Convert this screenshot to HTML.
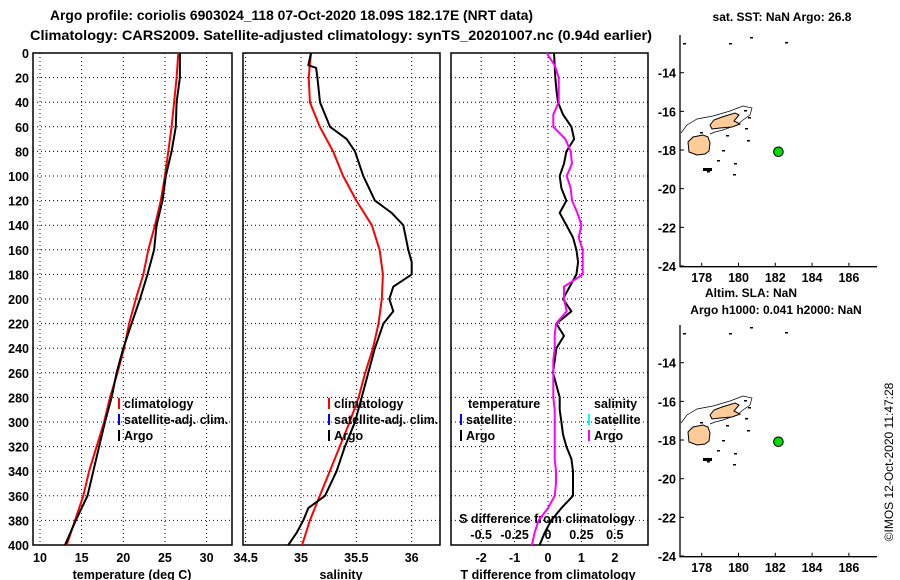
<!DOCTYPE html>
<html><head><meta charset="utf-8">
<style>
html,body{margin:0;padding:0;background:#fff;}
svg{display:block;font-family:"Liberation Sans",Arial,sans-serif;font-weight:bold;}
</style></head>
<body>
<svg id="chart" width="900" height="580" viewBox="0 0 900 580" xmlns="http://www.w3.org/2000/svg">
<g id="titles" font-size="13.5" fill="#000">
<text x="50" y="20" textLength="483" lengthAdjust="spacingAndGlyphs">Argo profile: coriolis 6903024_118 07-Oct-2020 18.09S 182.17E (NRT data)</text>
<text x="30" y="40" font-size="14" textLength="622" lengthAdjust="spacingAndGlyphs">Climatology: CARS2009. Satellite-adjusted climatology: synTS_20201007.nc (0.94d earlier)</text>
</g>
<g id="layer"></g>
<text transform="translate(893,462) rotate(-90)" text-anchor="middle" font-size="12" font-weight="normal">©IMOS 12-Oct-2020 11:47:28</text>
</svg>
<script>
// depth levels (dbar)
const depths = [0,20,40,60,80,100,120,140,160,180,200,220,240,260,280,300,320,340,360,380,400];
const tempArgo = [26.8,26.8,26.4,26.3,25.8,25.1,24.7,24.0,23.7,22.9,22.0,21.0,20.0,19.2,18.6,17.8,17.1,16.4,15.7,14.3,13.0];
const tempClim = [26.6,26.4,26.1,25.8,25.4,25.0,24.5,23.8,23.0,22.4,21.5,20.7,20.1,19.3,18.4,17.7,16.8,15.9,15.2,14.2,13.2];
const salDepths = [0,10,12,20,40,60,70,80,100,120,130,140,160,170,180,190,200,210,220,240,260,280,300,320,340,360,370,380,390,400];
const salArgo = [35.09,35.066,35.136,35.148,35.172,35.262,35.413,35.488,35.563,35.668,35.819,35.924,35.969,36.0,36.0,35.834,35.798,35.834,35.744,35.668,35.608,35.548,35.488,35.397,35.322,35.217,35.066,35.021,34.961,34.885];
const salClim = [35.09,35.07,35.08,35.17,35.29,35.38,35.50,35.64,35.71,35.74,35.73,35.70,35.65,35.58,35.52,35.44,35.35,35.26,35.17,35.08,35.01];
const diffDepths = [0,10,20,30,40,50,60,70,80,90,100,110,120,130,140,150,160,170,180,190,200,210,220,230,240,250,260,270,280,290,300,310,320,330,340,350,360,370,380,390,400];
const tDiffArgo = [0.18,0.20,0.22,0.25,0.30,0.45,0.70,0.78,0.55,0.48,0.35,0.40,0.55,0.35,0.55,0.75,0.85,0.90,0.85,0.65,0.45,0.70,0.25,0.48,0.25,0.20,0.15,0.25,0.35,0.35,0.40,0.45,0.55,0.70,0.75,0.75,0.75,0.40,0.10,-0.10,-0.25];
const sDiffArgo = [-0.01,0.05,0.08,0.08,0.08,0.04,0.04,0.13,0.17,0.18,0.14,0.17,0.18,0.22,0.25,0.23,0.26,0.26,0.26,0.12,0.12,0.14,0.06,0.05,0.05,0.04,0.04,0.04,0.04,0.05,0.05,0.05,0.05,0.05,0.06,0.06,0.05,0.0,-0.07,-0.10,-0.12];
const yTicks = [0,20,40,60,80,100,120,140,160,180,200,220,240,260,280,300,320,340,360,380,400];
const tempTicks = [10,15,20,25,30];
const salTicks = [34.5,35,35.5,36];
const salTickLabels = ["34.5","35","35.5","36"];
const tdTicks = [-2,-1,0,1,2];
const sdTicks = [-0.5,-0.25,0,0.25,0.5];
const sdTickLabels = ["-0.5","-0.25","0","0.25","0.5"];
const lonTicks = [178,180,182,184,186];
const latTicks = [-14,-16,-18,-20,-22,-24];
const argoLon = [182.17];
const argoLat = [-18.09];

const NS='http://www.w3.org/2000/svg';
const layer=document.getElementById('layer');
function mk(tag,attrs,parent){const e=document.createElementNS(NS,tag);for(const k in attrs)e.setAttribute(k,attrs[k]);(parent||layer).appendChild(e);return e;}
function txt(s,attrs,parent){const e=mk('text',attrs,parent);e.textContent=s;return e;}

const Y0=53,Y1=545;
const yScale=d=>Y0+(d/400)*(Y1-Y0);
const xTemp=t=>40+(t-10)*8.33;
const xSal=s=>301+(s-35)*110.7;
const xTD=t=>548+t*33.4;
const xSD=s=>548+s*4*33.4;
const panels=[{x0:33,x1:232,name:'temperature'},{x0:243,x1:440,name:'salinity'},{x0:451,x1:648,name:'difference'}];

panels.forEach((p,i)=>{
  const g=mk('g',{});
  
  
  yTicks.forEach(d=>{
    if(d===0||d===400)return;
    const l=mk('line',{x1:p.x0,x2:p.x1,y1:yScale(d),y2:yScale(d),stroke:'#000','stroke-width':1,'stroke-dasharray':'1,3'},g);
    
    
  });
  const vt = i===0?tempTicks.map(xTemp):i===1?salTicks.map(xSal):tdTicks.map(xTD);
  vt.forEach(x=>{
    if(x<=p.x0+1||x>=p.x1-1)return;
    const l=mk('line',{x1:x,x2:x,y1:Y0,y2:Y1,stroke:'#000','stroke-width':1,'stroke-dasharray':'1,3'},g);
    
    
  });
  const r=mk('rect',{x:p.x0,y:Y0,width:p.x1-p.x0,height:Y1-Y0,fill:'none',stroke:'#000','stroke-width':1.5},g);
  
  
});
yTicks.forEach(d=>{
  const t=txt(String(d),{x:29,y:yScale(d)+5,'text-anchor':'end','font-size':12.5});
  
  
});
function xLabels(ticks,labels,fn){ticks.forEach((v,i)=>{const t=txt(labels[i],{x:fn(v),y:562,'text-anchor':'middle','font-size':12.5});
  
  });}
xLabels(tempTicks,tempTicks.map(String),xTemp);
xLabels(salTicks,salTickLabels,xSal);
xLabels(tdTicks,tdTicks.map(String),xTD);
[['temperature (deg C)',132],['salinity',341],['T difference from climatology',548]].forEach(a=>{
  const t=txt(a[0],{x:a[1],y:579,'text-anchor':'middle','font-size':12.5});
  
  
});
const st=txt('S difference from climatology',{x:547,y:523,'text-anchor':'middle','font-size':12.5});


sdTicks.forEach((v,i)=>{const t=txt(sdTickLabels[i],{x:xSD(v),y:539,'text-anchor':'middle','font-size':12.5});
  
  });

function line(xs,ds,fx,color,name){
  const pts=xs.map((v,i)=>fx(v).toFixed(1)+','+yScale(ds[i]).toFixed(1)).join(' ');
  const l=mk('polyline',{points:pts,fill:'none',stroke:color,'stroke-width':2,'stroke-linejoin':'round'});
  
  
}
line(tempClim,depths,xTemp,'#f00','temperature-climatology-line');
line(tempArgo,depths,xTemp,'#000','temperature-argo-line');
line(salClim,depths,xSal,'#f00','salinity-climatology-line');
line(salArgo,salDepths,xSal,'#000','salinity-argo-line');
line(tDiffArgo,diffDepths,xTD,'#000','t-diff-argo-line');
line(sDiffArgo,diffDepths,xSD,'#f0f','s-diff-argo-line');

function legend(x,y,color,label,name){
  const g=mk('g',{});
  
  
  mk('rect',{x:x,y:y-10,width:2,height:11,fill:color},g);
  txt(label,{x:x+6,y:y,'font-size':12.5},g);
}
legend(118,408,'#f00','climatology','legend-climatology');
legend(118,424,'#00f','satellite-adj. clim.','legend-satellite-adj');
legend(118,440,'#000','Argo','legend-argo');
legend(328,408,'#f00','climatology','legend-climatology');
legend(328,424,'#00f','satellite-adj. clim.','legend-satellite-adj');
legend(328,440,'#000','Argo','legend-argo');
const lt=txt('temperature',{x:468,y:408,'font-size':12.5});


const ls=txt('salinity',{x:594,y:408,'font-size':12.5});


legend(460,424,'#00f','satellite','legend-t-satellite');
legend(460,440,'#000','Argo','legend-t-argo');
legend(588,424,'#0ff','satellite','legend-s-satellite');
legend(588,440,'#f0f','Argo','legend-s-argo');

const lonX=lon=>701.7+(lon-178)*18.4;
function map(off){
  const g=mk('g',{});
  
  
  const latY=lat=>72.7+(-14-lat)*19.33+off;
  mk('polyline',{points:`680,${35+off} 680,${266.7+off} 877,${266.7+off}`,fill:'none',stroke:'#000','stroke-width':1.3},g);
  latTicks.forEach(l=>{
    mk('line',{x1:680,x2:684,y1:latY(l),y2:latY(l),stroke:'#000'},g);
    const t=txt(String(l),{x:676,y:latY(l)+5,'text-anchor':'end','font-size':12.5},g);
    
    
  });
  lonTicks.forEach(l=>{
    mk('line',{x1:lonX(l),x2:lonX(l),y1:266.7+off,y2:262.7+off,stroke:'#000'},g);
    const t=txt(String(l),{x:lonX(l),y:282+off,'text-anchor':'middle','font-size':12.5},g);
    
    
  });
  const o=off;
  mk('polyline',{points:`681,${133+o} 687,${125+o} 697,${119+o} 713,${116+o} 730,${111+o} 743,${106+o} 752,${108+o} 750,${115+o} 743,${120+o} 737,${125+o} 723,${130+o} 715,${132+o} 710,${134+o}`,fill:'none',stroke:'#000','stroke-width':0.7},g);
  mk('polygon',{points:`688,${142+o} 693,${137+o} 703,${135+o} 708,${137+o} 710,${143+o} 709,${151+o} 705,${154+o} 697,${155+o} 689,${152+o}`,fill:'#fc9','stroke':'#000','stroke-width':1},g);
  mk('polygon',{points:`710,${125+o} 714,${120+o} 722,${117+o} 735,${113+o} 739,${115+o} 734,${121+o} 740,${124+o} 732,${127+o} 720,${128+o} 712,${129+o}`,fill:'#fc9','stroke':'#000','stroke-width':1},g);
  [[683,43],[729,43],[750,37],[785,42],[717,160],[707,171],[734,163],[733,174],[747,140],[745,128],[726,135],[722,150],[700,132],[748,117],[744,110]].forEach(p=>mk('rect',{x:p[0],y:p[1]+o,width:3,height:1.5,fill:'#000'},g));
  mk('rect',{x:703,y:168+o,width:9,height:3,fill:'#000'},g);
  argoLon.forEach((lon,i)=>{
    const c=mk('circle',{cx:lonX(lon),cy:latY(argoLat[i]),r:4.8,fill:'#0d0',stroke:'#000','stroke-width':1},g);
    
    
  });
}
map(0);
map(290);
[['sat. SST: NaN Argo: 26.8',782,21,'map-title-sst'],['Altim. SLA: NaN',751,297,'map-title-sla'],['Argo h1000: 0.041 h2000: NaN',776,314,'map-title-height']].forEach(a=>{
  const t=txt(a[0],{x:a[1],y:a[2],'text-anchor':'middle','font-size':12});
  
  
});
</script>
</body></html>
